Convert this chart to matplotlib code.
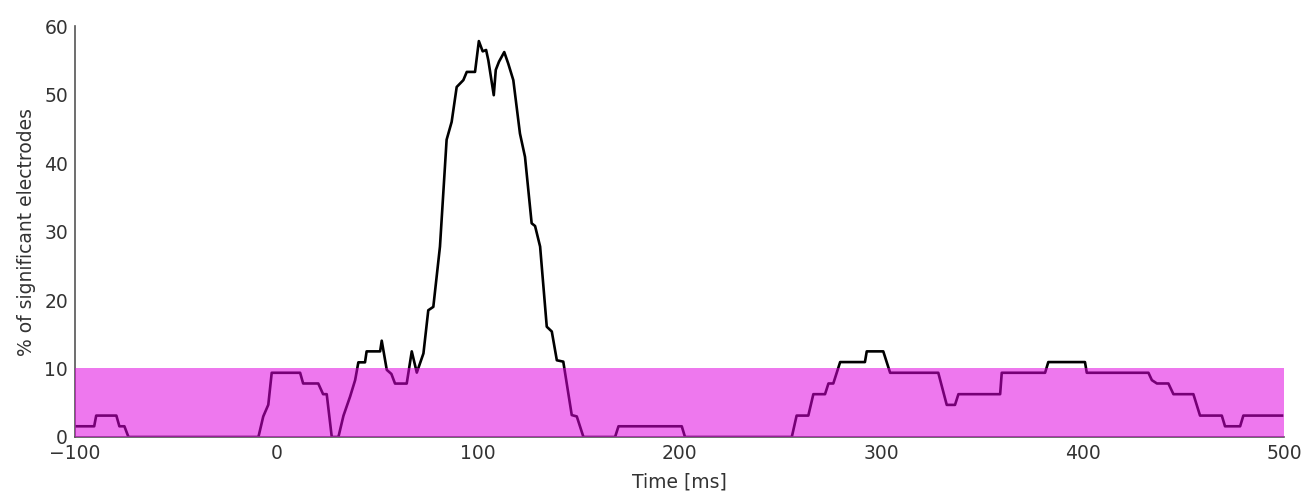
import matplotlib
matplotlib.use("Agg")
import matplotlib.pyplot as plt

# Time [ms] of the curve's vertices
time_ms = [-100, -90.5, -89.5, -79.5, -78, -75.5, -73.5, -9, -6.6, -4.1, -2.4,
           11.7, 13.2, 20.7, 23.1, 24.9, 27.4, 30.7, 33.2, 36.5, 39.0, 40.6,
           43.9, 44.7, 51.4, 52.2, 54.7, 57.0, 58.8, 64.6, 67.1, 69.6, 72.9,
           75.3, 77.8, 81.1, 84.4, 86.9, 89.4, 92.7, 94.4, 98.5, 100.4, 102.3,
           104.0, 105.1, 107.8, 108.8, 110.4, 113.0, 115.0, 117.5, 120.8, 123.3,
           126.6, 128.3, 130.8, 134.1, 136.6, 139.1, 142.3, 146.5, 149.0, 152.3,
           168.0, 169.7, 201.1, 202.7, 255.7, 258.1, 263.9, 266.4, 272.2, 273.9,
           276.3, 279.7, 292.0, 292.9, 301.1, 304.5, 328.4, 332.6, 336.7, 338.4,
           359.1, 359.9, 381.4, 383.0, 401.2, 402.1, 432.7, 434.4, 436.9, 442.6,
           445.1, 455.0, 458.3, 469.1, 470.7, 478.2, 479.8, 499.0]

# % of significant electrodes at those vertices
pct_significant = [1.5625, 1.5625, 3.125, 3.125, 1.5625, 1.5625, 0, 0, 3.0, 4.7, 9.375,
                   9.375, 7.8125, 7.8125, 6.25, 6.25, 0, 0, 3.1, 5.9, 8.3, 10.9,
                   10.9, 12.5, 12.5, 14.06, 9.8, 9.2, 7.8, 7.8, 12.5, 9.4, 12.2,
                   18.5, 19.0, 27.8, 43.4, 46.0, 51.1, 52.1, 53.3, 53.3, 57.8, 56.3,
                   56.5, 55.0, 49.9, 53.6, 54.8, 56.2, 54.5, 52.1, 44.3, 40.9,
                   31.2, 30.8, 27.8, 16.1, 15.4, 11.2, 11.0, 3.2, 3.0, 0,
                   0, 1.5625, 1.5625, 0, 0, 3.125, 3.125, 6.25, 6.25, 7.8125,
                   7.8125, 10.9375, 10.9375, 12.5, 12.5, 9.375, 9.375, 4.6875, 4.6875, 6.25,
                   6.25, 9.375, 9.375, 10.9375, 10.9375, 9.375, 9.375, 8.3, 7.8125, 7.8125,
                   6.25, 6.25, 3.125, 3.125, 1.5625, 1.5625, 3.125, 3.125]

# significance band (chance level)
band_low, band_high = 0, 10

x_ticks = [-100, 0, 100, 200, 300, 400, 500]
y_ticks = [0, 10, 20, 30, 40, 50, 60]

fig = plt.figure(figsize=(13.12, 4.91), dpi=100)
ax = fig.add_axes([0.0572, 0.110, 0.9215, 0.837])

ax.plot(time_ms, pct_significant, color="black", lw=1.9, zorder=2)
ax.axhspan(band_low, band_high, color="#e000e0", alpha=0.53, lw=0, zorder=3)

ax.set_xlim(-100, 500)
ax.set_ylim(0, 60)
ax.set_xticks(x_ticks)
ax.set_yticks(y_ticks)
ax.tick_params(length=0, pad=5, labelsize=13.5, colors="#333333")

for s in ["top", "right"]:
    ax.spines[s].set_visible(False)
for s in ["left", "bottom"]:
    ax.spines[s].set_color("#555555")
    ax.spines[s].set_linewidth(1.2)

ax.set_xlabel("Time [ms]", fontsize=13.5, color="#333333", labelpad=7)
ax.set_ylabel("% of significant electrodes", fontsize=13.5, color="#333333", labelpad=6)

fig.savefig("out.png", dpi=100)
